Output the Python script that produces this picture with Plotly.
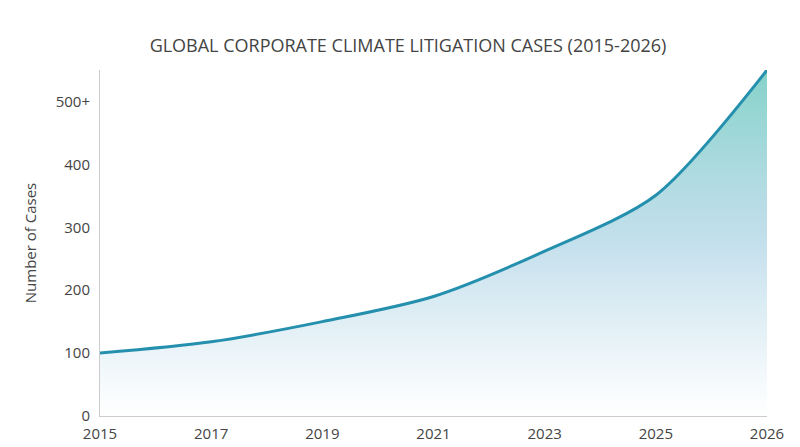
import plotly.graph_objects as go

years = ["2015", "2017", "2019", "2021", "2023", "2025", "2026"]
cases = [100, 118, 150, 190, 262, 351, 550]
y_ticks = [0, 100, 200, 300, 400, 500]
y_labels = ["0", "100", "200", "300", "400", "500+"]

idx = list(range(len(years)))

fig = go.Figure()
fig.add_trace(go.Scatter(
    x=idx, y=cases, mode="lines",
    line=dict(color="#2590ae", width=3, shape="spline", smoothing=0.8),
    fill="tozeroy",
    fillgradient=dict(type="vertical",
                      colorscale=[[0, "rgba(255,255,255,0.6)"], [0.5, "rgba(170,210,228,0.7)"], [1, "rgba(120,205,195,0.9)"]]),
    hoverinfo="x+y",
))

fig.update_layout(
    width=800, height=447,
    paper_bgcolor="white", plot_bgcolor="white",
    margin=dict(l=92, r=41, t=62, b=39),
    font=dict(family="Open Sans", color="#444", size=15),
    title=dict(text="GLOBAL CORPORATE CLIMATE LITIGATION CASES (2015-2026)",
               x=0.5, y=0.93, xanchor="center",
               font=dict(size=18, color="#444", weight=500)),
    showlegend=False,
)
fig.update_xaxes(range=[0, 6], tickvals=idx, ticktext=years, showgrid=False,
                 showline=True, linecolor="#ccc", ticks="", zeroline=False,
                 ticklabelstandoff=4)
fig.update_yaxes(range=[0, 550], tickvals=y_ticks, ticktext=y_labels, showgrid=False,
                 showline=True, linecolor="#ccc", zeroline=False,
                 ticklabelstandoff=6,
                 title=dict(text="Number of Cases", font=dict(size=15)))

fig.write_html("out.html")
